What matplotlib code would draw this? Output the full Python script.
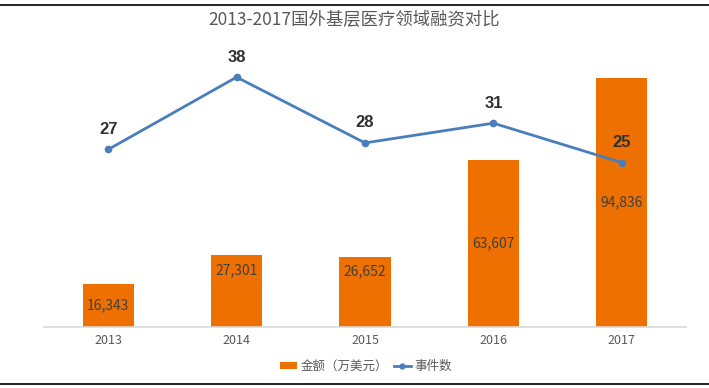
import matplotlib
matplotlib.use("Agg")
import matplotlib.pyplot as plt
from matplotlib.lines import Line2D
from matplotlib.patches import Patch

plt.rcParams['font.family'] = ['Noto Sans CJK SC', 'DejaVu Sans']

years = ['2013', '2014', '2015', '2016', '2017']
amounts = [16343, 27301, 26652, 63607, 94836]
deals = [27, 38, 28, 31, 25]
label_frac = [0.5, 0.79, 0.8, 0.5, 0.5]

bar_color = '#EE7000'
line_color = '#4A7EBB'

fig = plt.figure(figsize=(7.09, 3.88), dpi=100)
ax = fig.add_axes([44/709, 61/388, (686-44)/709, (327-64)/388])
x = list(range(len(years)))
ax.bar(x, amounts, width=0.4, color=bar_color, zorder=2)
ax.set_xlim(-0.5, len(years) - 0.5)
ax.set_ylim(0, 100000)
for xi, v, f in zip(x, amounts, label_frac):
    ax.text(xi, v * f, f'{v:,}', ha='center', va='center', fontsize=10,
            color='#404040', zorder=5)
for s in ['top', 'right', 'left']:
    ax.spines[s].set_visible(False)
ax.spines['bottom'].set_color('#D9D9D9')
ax.spines['bottom'].set_linewidth(1.2)
ax.set_yticks([])
ax.set_xticks(x)
ax.set_xticklabels(years, fontsize=9, color='#595959')
ax.tick_params(axis='x', length=0, pad=5)

ax2 = ax.twinx()
ax2.set_ylim(0, 40)
ax2.plot(x, deals, color=line_color, linewidth=2, marker='o', markersize=4.5, zorder=4)
for xi, v in zip(x, deals):
    ax2.annotate(str(v), (xi, v), xytext=(0, 9), textcoords='offset points',
                 ha='center', va='bottom', fontsize=12, fontweight='bold',
                 color='#303030',
                 family=['Liberation Sans Narrow', 'Liberation Sans', 'DejaVu Sans'])
ax2.set_yticks([])
for s in ax2.spines.values():
    s.set_visible(False)

fig.text(0.5, 1 - 20/388, '2013-2017国外基层医疗领域融资对比', ha='center', va='center',
         fontsize=12.5, color='#595959')

handles = [Patch(facecolor=bar_color, edgecolor='none'),
           Line2D([0], [0], color=line_color, linewidth=2, marker='o', markersize=3.5)]
fig.legend(handles, ['金额（万美元）', '事件数'], loc='center',
           bbox_to_anchor=(366/709, 1 - 366/388),
           ncol=2, frameon=False, fontsize=9, handlelength=1.4, handleheight=0.5,
           columnspacing=0.4, handletextpad=0.3, labelcolor='#595959')

fig.add_artist(Line2D([0, 1], [1 - 5/388, 1 - 5/388], color='black', linewidth=1.2,
                      transform=fig.transFigure))
fig.add_artist(Line2D([0, 1], [1 - 384/388, 1 - 384/388], color='black', linewidth=1.2,
                      transform=fig.transFigure))

fig.savefig('out.png', dpi=100)
